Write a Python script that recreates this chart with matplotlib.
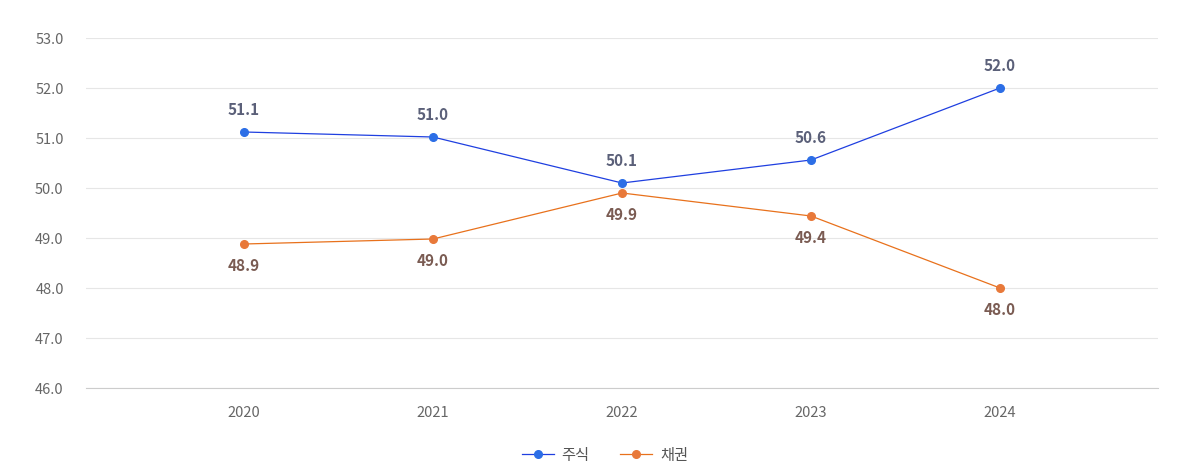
import matplotlib
matplotlib.use("Agg")
import matplotlib.pyplot as plt
from matplotlib.lines import Line2D

plt.rcParams['font.family'] = ['Noto Sans CJK KR', 'DejaVu Sans']

years = ["2020", "2021", "2022", "2023", "2024"]
stocks = [51.12, 51.02, 50.1, 50.56, 52.0]
bonds = [48.88, 48.98, 49.9, 49.44, 48.0]
y_ticks = [46.0, 47.0, 48.0, 49.0, 50.0, 51.0, 52.0, 53.0]

fig = plt.figure(figsize=(11.84, 4.65), dpi=100)
ax = fig.add_axes([86/1184, 1-388/465, (1158-86)/1184, (388-38)/465])

x = list(range(len(years)))
blue_line = "#1f3fe0"
blue_mk = "#2c6ee6"
orange_line = "#e8711c"
orange_mk = "#e8793a"

ax.plot(x, stocks, color=blue_line, lw=0.9, marker='o', ms=5.5,
        markerfacecolor=blue_mk, markeredgecolor=blue_mk, zorder=3)
ax.plot(x, bonds, color=orange_line, lw=0.9, marker='o', ms=5.5,
        markerfacecolor=orange_mk, markeredgecolor=orange_mk, zorder=3)

for xi, v in zip(x, stocks):
    ax.annotate(f"{v:.1f}", (xi, v), xytext=(0, 15.5), textcoords='offset points',
                ha='center', va='center', fontsize=11, fontweight='bold', color="#5b6079")
for xi, v in zip(x, bonds):
    ax.annotate(f"{v:.1f}", (xi, v), xytext=(0, -16), textcoords='offset points',
                ha='center', va='center', fontsize=11, fontweight='bold', color="#7a5b52")

ax.set_xlim(-0.836, 4.836)
ax.set_ylim(46.0, 53.0)
ax.set_yticks(y_ticks)
ax.set_yticklabels([f"{t:.1f}" for t in y_ticks])
ax.set_xticks(x)
ax.set_xticklabels(years)
ax.tick_params(axis='both', length=0, labelsize=10.5, labelcolor="#666666")
ax.tick_params(axis='y', pad=16)
ax.tick_params(axis='x', pad=13)
ax.grid(axis='y', color="#e6e6e6", lw=0.8)
ax.set_axisbelow(True)
for s in ['top', 'right', 'left']:
    ax.spines[s].set_visible(False)
ax.spines['bottom'].set_color("#cccccc")
ax.spines['bottom'].set_linewidth(0.8)

handles = [
    Line2D([], [], color=blue_line, lw=0.9, marker='o', ms=5.5,
           markerfacecolor=blue_mk, markeredgecolor=blue_mk),
    Line2D([], [], color=orange_line, lw=0.9, marker='o', ms=5.5,
           markerfacecolor=orange_mk, markeredgecolor=orange_mk),
]
fig.legend(handles, ["주식", "채권"], loc='center', bbox_to_anchor=(605/1184, 1-455/465),
           ncol=2, frameon=False, fontsize=11, labelcolor="#555555",
           handlelength=2.1, columnspacing=2.0, handletextpad=0.5)

fig.savefig("out.png", dpi=100, facecolor="white")
